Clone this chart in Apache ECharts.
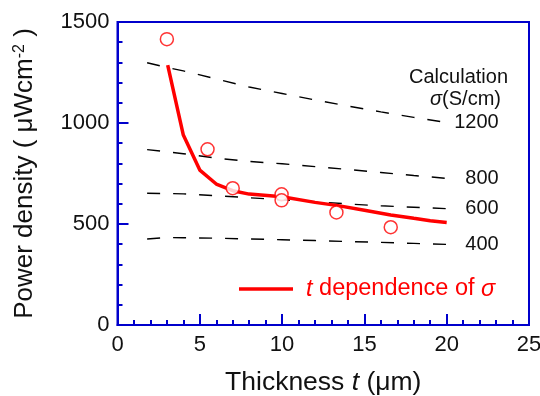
<!DOCTYPE html>
<html>
<head>
<meta charset="utf-8">
<script src="https://cdn.jsdelivr.net/npm/echarts@6/dist/echarts.min.js"></script>
<style>
  html, body { margin: 0; padding: 0; background: #fff; }
  #chart { width: 540px; height: 396px; }
</style>
</head>
<body>
<div id="chart"></div>
<script>
// measured points (circles)
const measT = [3.0, 5.47, 7.0, 9.97, 9.97, 13.3, 16.6];
const measP = [1415, 870, 677, 647, 617, 557, 484];

// t dependence of sigma (red line)
const fitT = [3.05, 4, 5, 6, 7, 8, 10, 12, 13.4, 15, 16.6, 18, 19, 20];
const fitP = [1287, 940, 767, 698, 665, 648, 635, 607, 591, 568, 545, 528, 516, 508];

// calculation curves, sigma in S/cm
const calcT = [1.8, 3, 4, 6, 8, 10, 12, 14, 16, 18, 20];
const calc1200 = [1298, 1275, 1258, 1218, 1178, 1146, 1114, 1084, 1055, 1028, 1002];
const calc800 = [868, 858, 848, 826, 810, 798, 784, 770, 755, 740, 726];
const calc600 = [652, 651, 649, 640, 630, 620, 611, 599, 590, 583, 576];
const calc400 = [426, 433, 432, 430, 426, 422, 418, 413, 409, 404, 399];
const calcNames = ['1200', '800', '600', '400'];

const xTicks = [0, 5, 10, 15, 20, 25];
const yTicks = [0, 500, 1000, 1500];

const font = '"Liberation Sans", Arial, sans-serif';
const blue = '#0000cc';
const red = '#ff0000';

const chart = echarts.init(document.getElementById('chart'));

const zip = (a, b) => a.map((v, i) => [v, b[i]]);

const calcSeries = [calc1200, calc800, calc600, calc400].map((arr, i) => ({
  name: 'calc' + calcNames[i],
  type: 'line',
  data: zip(calcT, arr),
  showSymbol: false,
  silent: true,
  lineStyle: { color: '#000', width: 1.4, type: [13, 13] },
  z: 2
}));

const option = {
  animation: false,
  grid: {
    left: 117.5, top: 22, right: 11, bottom: 71,
    outerBoundsMode: 'none',
    show: true, borderColor: blue, borderWidth: 2
  },
  legend: {
    data: ['fit'],
    left: 239, top: 277,
    padding: 0,
    icon: 'rect',
    itemWidth: 54, itemHeight: 3.5,
    formatter: () => '{i|t} dependence of {i|σ}',
    textStyle: {
      color: red, fontSize: 23.5, fontFamily: font, padding: [0, 0, 0, 8],
      rich: { i: { fontStyle: 'italic', fontSize: 23.5, color: red, fontFamily: font } }
    }
  },
  xAxis: {
    type: 'value',
    min: 0, max: 25, interval: 5,
    name: 'Thickness {i|t} (μm)',
    nameLocation: 'middle',
    nameGap: 44,
    nameTextStyle: {
      fontSize: 26.5, color: '#111', fontFamily: font,
      rich: { i: { fontStyle: 'italic', fontSize: 26.5, color: '#111', fontFamily: font } }
    },
    axisLine: { lineStyle: { color: blue, width: 2 } },
    axisTick: { inside: true, length: 11, lineStyle: { color: blue, width: 2 } },
    minorTick: { show: true, splitNumber: 5, length: 5, lineStyle: { color: blue, width: 2 } },
    splitLine: { show: false },
    axisLabel: {
      fontSize: 22, color: '#111', fontFamily: font, margin: 9,
      formatter: v => xTicks.includes(v) ? String(v) : ''
    }
  },
  yAxis: {
    type: 'value',
    min: 0, max: 1500, interval: 500,
    name: 'Power density ( μWcm{s|-2} )',
    nameLocation: 'middle',
    nameGap: 80,
    nameTextStyle: {
      fontSize: 26, color: '#111', fontFamily: font,
      rich: { s: { fontSize: 16, color: '#111', fontFamily: font, verticalAlign: 'top', lineHeight: 14 } }
    },
    axisLine: { lineStyle: { color: blue, width: 2 } },
    axisTick: { inside: true, length: 11, lineStyle: { color: blue, width: 2 } },
    minorTick: { show: true, splitNumber: 5, length: 5, lineStyle: { color: blue, width: 2 } },
    splitLine: { show: false },
    axisLabel: {
      fontSize: 22, color: '#111', fontFamily: font, margin: 8,
      formatter: v => yTicks.includes(v) ? String(v) : ''
    }
  },
  series: calcSeries.concat([
    {
      name: 'fit',
      type: 'line',
      data: zip(fitT, fitP),
      showSymbol: false,
      lineStyle: { color: red, width: 3.5 },
      itemStyle: { color: red },
      z: 3
    },
    {
      name: 'measured',
      type: 'scatter',
      data: zip(measT, measP),
      symbol: 'circle',
      symbolSize: 13,
      itemStyle: { color: '#fff', borderColor: red, borderWidth: 1.5 },
      z: 4
    }
  ])
};

chart.setOption(option);

// labels at the right end of the calculation curves
const endVals = [calc1200, calc800, calc600, calc400].map(a => a[a.length - 1]);
const labelX = chart.convertToPixel({ gridIndex: 0 }, [calcT[calcT.length - 1], 0])[0] + 52;
const graphics = endVals.map((v, i) => ({
  type: 'text',
  x: labelX,
  y: chart.convertToPixel({ gridIndex: 0 }, [0, v])[1],
  style: { text: calcNames[i], font: '20px ' + font, fill: '#111', align: 'right', verticalAlign: 'middle' }
}));
graphics.push({
  type: 'text', x: 508, y: 77,
  style: { text: 'Calculation', font: '20px ' + font, fill: '#111', align: 'right', verticalAlign: 'middle' }
});
graphics.push({
  type: 'text', x: 501, y: 99,
  style: {
    text: '{i|σ}(S/cm)', font: '20px ' + font, fill: '#111', align: 'right', verticalAlign: 'middle',
    rich: { i: { fontStyle: 'italic', fontSize: 20, fontFamily: font, fill: '#111' } }
  }
});
chart.setOption({ graphic: graphics });
</script>
</body>
</html>
